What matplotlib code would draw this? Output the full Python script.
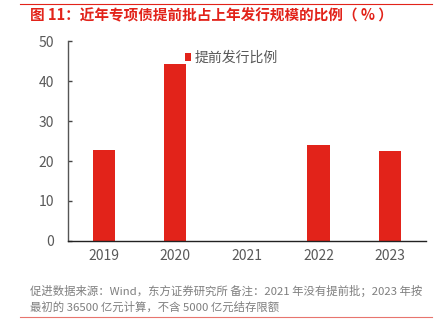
import matplotlib.pyplot as plt
from matplotlib.lines import Line2D

plt.rcParams['font.family'] = ['Noto Sans CJK SC', 'DejaVu Sans']

years = ["2019", "2020", "2021", "2022", "2023"]
ratio = [22.8, 44.2, 0, 24.0, 22.6]
series_name = "提前发行比例"
title = "图 11：近年专项债提前批占上年发行规模的比例（ % ）"
note_1 = "促进数据来源：Wind，东方证券研究所 备注：2021 年没有提前批；2023 年按"
note_2 = "最初的 36500 亿元计算，不含 5000 亿元结存限额"

red = "#E2231A"
grey = "#595959"

fig = plt.figure(figsize=(4.46, 3.35), dpi=100)
ax = fig.add_axes([0.1525, 0.2806, 0.8025, 0.597])

x = range(len(years))
ax.bar(x, ratio, width=0.31, color=red, label=series_name)

ax.set_xlim(-0.5, len(years) - 0.5)
ax.set_ylim(0, 50)
ax.set_yticks(range(0, 51, 10))
ax.set_xticks(list(x))
ax.set_xticklabels(years)
ax.tick_params(axis="x", length=0, labelsize=10, colors=grey, pad=6)
ax.tick_params(axis="y", direction="in", length=3, width=1, labelsize=10,
               colors="#444444", labelcolor=grey, pad=10)
for s in ["top", "right"]:
    ax.spines[s].set_visible(False)
ax.spines["left"].set_color("#555555")
ax.spines["bottom"].set_color("#222222")
ax.spines["left"].set_linewidth(1.0)
ax.spines["bottom"].set_linewidth(1.0)

ax.legend(loc="upper left", bbox_to_anchor=(0.31, 0.98), frameon=False,
          fontsize=10, handlelength=0.5, handleheight=0.5, handletextpad=0.2,
          labelcolor=grey, borderaxespad=0)

# header / footer rules and texts
fig.add_artist(Line2D([0.045, 0.968], [0.988, 0.988], color=red, lw=0.8))
fig.text(0.067, 0.955, title, color=red, fontsize=10.5, fontweight="bold",
         va="center", ha="left")
fig.text(0.067, 0.131, note_1, color="#7f7f7f", fontsize=8.2, va="center")
fig.text(0.067, 0.0836, note_2, color="#7f7f7f", fontsize=8.2, va="center")
fig.add_artist(Line2D([0.045, 0.968], [0.054, 0.054], color="#E8756E", lw=0.8))

fig.savefig("out.png", dpi=100)
